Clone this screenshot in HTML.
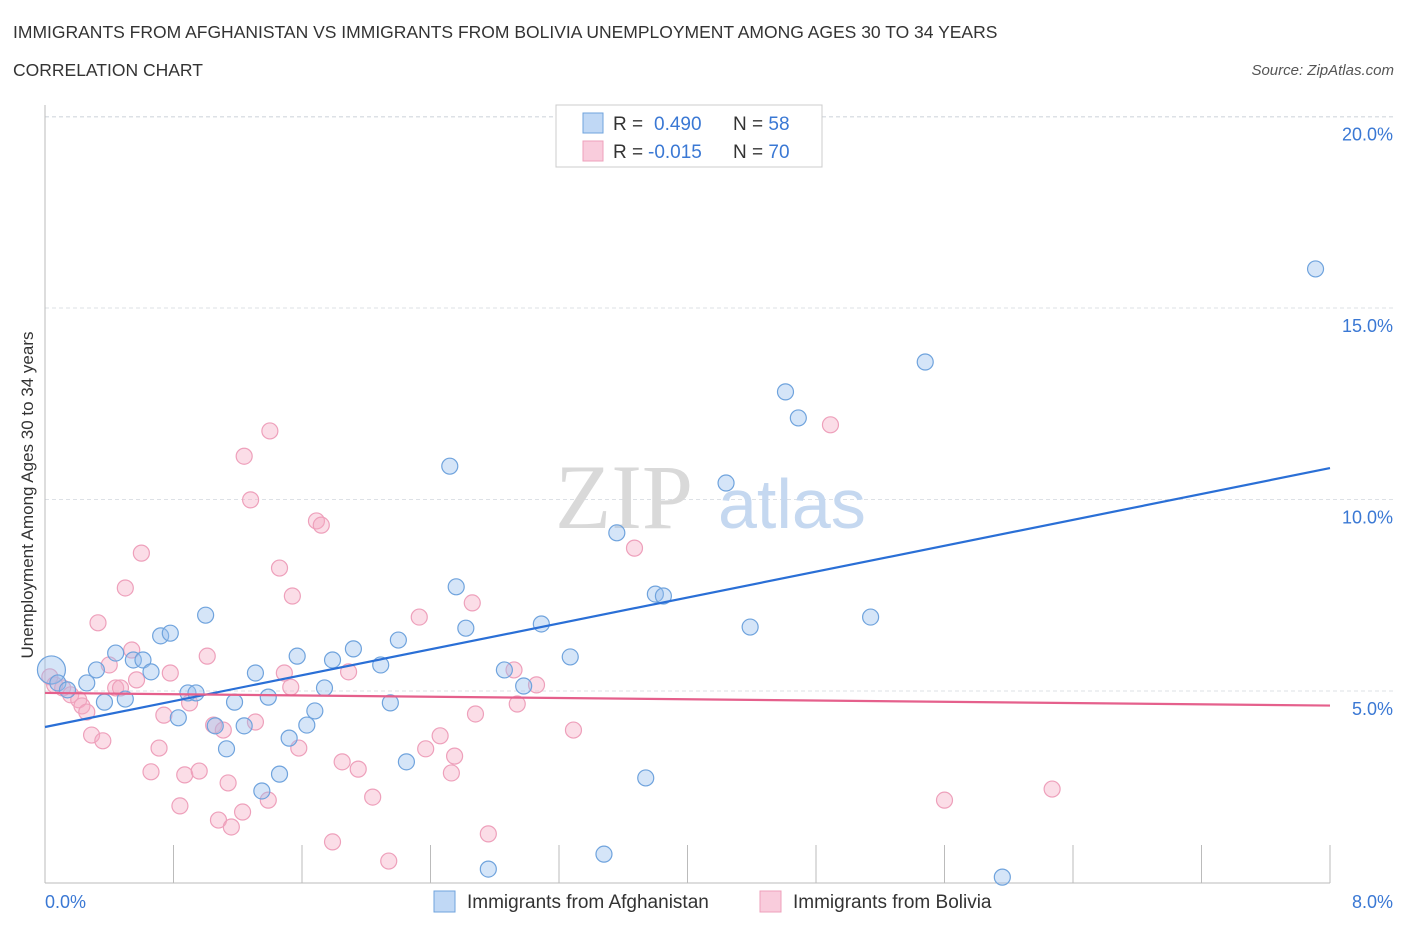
<!DOCTYPE html>
<html><head><meta charset="utf-8">
<style>
body{margin:0;background:#fff;font-family:"Liberation Sans",sans-serif;}
#wrap{position:relative;width:1406px;height:930px;overflow:hidden;}
.t{position:absolute;color:#333;}
</style></head>
<body>
<div id="wrap">
<div class="t" style="left:13px;top:22px;font-size:17.5px;">IMMIGRANTS FROM AFGHANISTAN VS IMMIGRANTS FROM BOLIVIA UNEMPLOYMENT AMONG AGES 30 TO 34 YEARS</div>
<div class="t" style="left:13px;top:60px;font-size:17.5px;">CORRELATION CHART</div>
<div class="t" style="right:12px;top:62px;font-size:15px;font-style:italic;color:#555;">Source: ZipAtlas.com</div>
<svg id="chart" width="1406" height="930" style="position:absolute;left:0;top:0"></svg>
</div>
<script>
const blueX=[0.04,0.08,0.14,0.26,0.32,0.37,0.44,0.50,0.55,0.61,0.66,0.72,0.78,0.83,0.89,0.94,1.00,1.06,1.13,1.18,1.24,1.31,1.35,1.39,1.46,1.52,1.57,1.63,1.68,1.74,1.79,1.92,2.09,2.15,2.20,2.25,2.52,2.56,2.62,2.76,2.86,2.98,3.09,3.27,3.48,3.56,3.74,3.80,3.85,4.24,4.39,4.61,4.69,5.14,5.48,5.96,7.91];
const blueY=[5.55,5.21,5.03,5.21,5.55,4.71,5.99,4.79,5.81,5.81,5.50,6.44,6.51,4.30,4.95,4.95,6.98,4.09,3.49,4.71,4.09,5.47,2.39,4.84,2.83,3.77,5.91,4.11,4.48,5.08,5.81,6.10,5.68,4.69,6.33,3.15,10.87,7.72,6.64,0.35,5.55,5.13,6.75,5.89,0.74,9.13,2.73,7.53,7.48,10.43,6.67,12.81,12.13,6.93,13.59,0.14,16.02];
const pinkX=[0.03,0.06,0.11,0.16,0.21,0.23,0.26,0.29,0.33,0.36,0.40,0.44,0.47,0.50,0.54,0.57,0.60,0.66,0.71,0.74,0.78,0.84,0.87,0.90,0.96,1.01,1.05,1.08,1.11,1.14,1.16,1.23,1.24,1.28,1.31,1.39,1.40,1.46,1.49,1.53,1.54,1.58,1.69,1.72,1.79,1.85,1.89,1.95,2.04,2.14,2.33,2.37,2.46,2.53,2.55,2.66,2.68,2.76,2.92,2.94,3.06,3.29,3.67,4.89,5.60,6.27];
const pinkY=[5.37,5.16,5.08,4.90,4.77,4.61,4.45,3.85,6.78,3.70,5.68,5.08,5.08,7.69,6.07,5.29,8.60,2.89,3.51,4.37,5.47,2.00,2.81,4.69,2.91,5.91,4.11,1.63,3.98,2.60,1.45,1.84,11.13,9.99,4.19,2.15,11.79,8.21,5.47,5.10,7.48,3.51,9.44,9.33,1.06,3.15,5.50,2.96,2.23,0.56,6.93,3.49,3.83,2.86,3.30,7.30,4.40,1.27,5.55,4.66,5.16,3.98,8.73,11.95,2.15,2.44];
const blueLine=[4.06,10.82];
const pinkLine=[4.95,4.62];
const yTicks=[5,10,15,20];
const yTickLabels=["5.0%","10.0%","15.0%","20.0%"];
const xMin=0,xMax=8;

const NS="http://www.w3.org/2000/svg";
const svg=document.getElementById('chart');
const X=v=>45+(v-xMin)/(xMax-xMin)*1285;
const Y=v=>882.5-v*38.3;
function mk(tag,attrs,parent){const e=document.createElementNS(NS,tag);for(const k in attrs)e.setAttribute(k,attrs[k]);(parent||svg).appendChild(e);return e;}

// gridlines
yTicks.forEach((t,i)=>{
 const g=mk('line',{x1:45,x2:1395,y1:Y(t),y2:Y(t),stroke:'#dde1e6','stroke-dasharray':'4,3'});
 
 
 const tx=mk('text',{x:1393,y:Y(t)+24,'text-anchor':'end','font-size':18,fill:'#3a78d4','font-family':'Liberation Sans'});
 tx.textContent=yTickLabels[i];
 
 
});
const topG=mk('line',{x1:45,x2:1395,y1:117,y2:117,stroke:'#dde1e6','stroke-dasharray':'4,3'});


// axes
const ya=mk('line',{x1:45,x2:45,y1:105,y2:883,stroke:'#bbb'});


const xa=mk('line',{x1:45,x2:1330,y1:883,y2:883,stroke:'#bbb'});


for(let i=0;i<=10;i++){
 const tk=mk('line',{x1:X(i*0.8),x2:X(i*0.8),y1:845,y2:883,stroke:'#bbb'});
 
 
}
// watermark
const wm=mk('text',{x:555,y:528,'font-size':92,fill:'#d9d9d9','font-family':'Liberation Serif'});
wm.textContent='ZIP';


const wm2=mk('text',{x:718,y:528,'font-size':70,fill:'#c5d8f0','font-family':'Liberation Sans'});
wm2.textContent='atlas';


// points
pinkX.forEach((x,i)=>{
 const c=mk('circle',{cx:X(x),cy:Y(pinkY[i]),r:8,fill:'rgba(245,170,196,0.4)',stroke:'#eea0bb','stroke-width':1.2});
 
 
});
blueX.forEach((x,i)=>{
 const c=mk('circle',{cx:X(x),cy:Y(blueY[i]),r:i===0?14:8,fill:'rgba(150,190,238,0.4)',stroke:'#6fa3dd','stroke-width':1.2});
 
 
});
const bl=mk('line',{x1:X(0),y1:Y(blueLine[0]),x2:X(8),y2:Y(blueLine[1]),stroke:'#2a6fd6','stroke-width':2.2});


const pl=mk('line',{x1:X(0),y1:Y(pinkLine[0]),x2:X(8),y2:Y(pinkLine[1]),stroke:'#e5608c','stroke-width':2.2});


// x labels
const xl0=mk('text',{x:45,y:908,'font-size':18,fill:'#3a78d4','font-family':'Liberation Sans'});
xl0.textContent='0.0%';


const xl1=mk('text',{x:1393,y:908,'text-anchor':'end','font-size':18,fill:'#3a78d4','font-family':'Liberation Sans'});
xl1.textContent='8.0%';


// y title
const yt=mk('text',{x:0,y:0,transform:'translate(33,495) rotate(-90)','text-anchor':'middle','font-size':17,fill:'#333','font-family':'Liberation Sans'});
yt.textContent='Unemployment Among Ages 30 to 34 years';


// top legend
const lg=mk('rect',{x:556,y:105,width:266,height:62,fill:'#fff',stroke:'#ccc'});


[[0,'0.490','58','rgba(150,190,238,0.6)','#6fa3dd'],[1,'-0.015','70','rgba(245,170,196,0.6)','#eea0bb']].forEach(r=>{
 const y0=113+r[0]*28;
 const sw=mk('rect',{x:583,y:y0,width:20,height:20,fill:r[3],stroke:r[4]});
 
 
 const t=mk('text',{x:613,y:y0+17,'font-size':19,fill:'#333','font-family':'Liberation Sans'});
 t.innerHTML='R = <tspan fill="#3a78d4" x="'+(r[0]?648:654)+'">'+r[1]+'</tspan><tspan x="733">N = </tspan><tspan fill="#3a78d4">'+r[2]+'</tspan>';
 
 
});
// bottom legend
[[434,'Immigrants from Afghanistan','rgba(150,190,238,0.6)','#6fa3dd'],[760,'Immigrants from Bolivia','rgba(245,170,196,0.6)','#eea0bb']].forEach(r=>{
 const sw=mk('rect',{x:r[0],y:891,width:21,height:21,fill:r[2],stroke:r[3]});
 
 
 const t=mk('text',{x:r[0]+33,y:908,'font-size':19,fill:'#333','font-family':'Liberation Sans'});
 t.textContent=r[1];
 
 
});
</script>
</body></html>
